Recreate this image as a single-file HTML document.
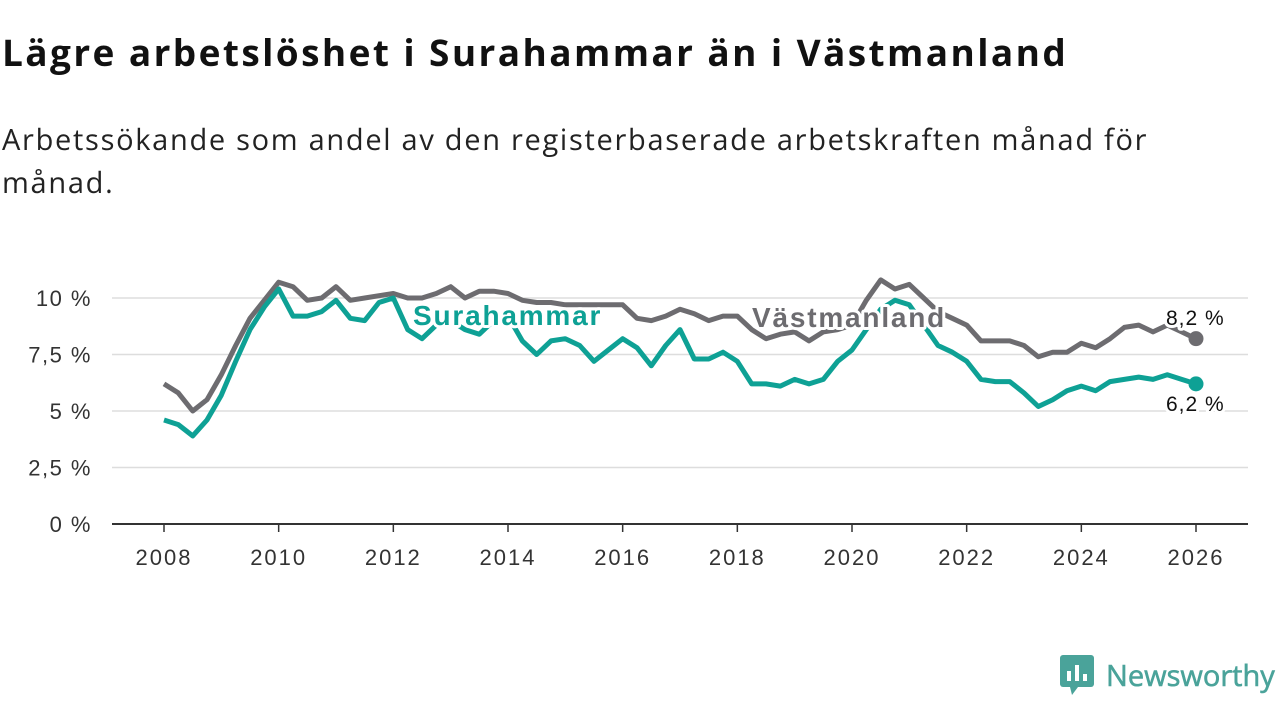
<!DOCTYPE html>
<html><head><meta charset="utf-8"><style>
body{margin:0;width:1280px;height:720px;background:#fff;font-family:"Open Sans","Liberation Sans","DejaVu Sans",sans-serif;overflow:hidden;position:relative;color:#111}
h1{position:absolute;left:2px;top:26px;margin:0;font-size:37px;font-weight:700;letter-spacing:2.4px;white-space:nowrap}
p.sub{position:absolute;left:2px;top:118px;margin:0;font-size:29px;line-height:43px;width:1200px;color:#222;letter-spacing:1.7px}
svg{position:absolute;left:0;top:0}
</style></head><body>
<h1>Lägre arbetslöshet i Surahammar än i Västmanland</h1>
<p class="sub">Arbetssökande som andel av den registerbaserade arbetskraften månad för månad.</p>
<svg id="chart" width="1280" height="720"></svg>
<div style="position:absolute;left:1060px;top:655px;display:flex;align-items:center">
<svg width="34" height="40" style="position:static"><rect x="0" y="0" width="34" height="32" rx="3" fill="#4aa39a"/><polygon points="10,32 18,32 12,40" fill="#4aa39a"/><rect x="7" y="16" width="4" height="10" fill="#fff"/><rect x="15" y="10" width="4" height="16" fill="#fff"/><rect x="23" y="19" width="4" height="7" fill="#fff"/></svg>
<span style="font-size:29px;color:#4aa39a;margin-left:12px;font-weight:400;-webkit-text-stroke:0.6px #4aa39a">Newsworthy</span></div>
<script>
const years=[];for(let i=0;i<=72;i++)years.push(2008+i/4);
const vastmanland=[6.2,5.8,5.0,5.5,6.6,7.9,9.1,9.9,10.7,10.5,9.9,10.0,10.5,9.9,10.0,10.1,10.2,10.0,10.0,10.2,10.5,10.0,10.3,10.3,10.2,9.9,9.8,9.8,9.7,9.7,9.7,9.7,9.7,9.1,9.0,9.2,9.5,9.3,9.0,9.2,9.2,8.6,8.2,8.4,8.5,8.1,8.5,8.6,8.8,9.9,10.8,10.4,10.6,10.0,9.4,9.1,8.8,8.1,8.1,8.1,7.9,7.4,7.6,7.6,8.0,7.8,8.2,8.7,8.8,8.5,8.8,8.5,8.2];
const surahammar=[4.6,4.4,3.9,4.6,5.7,7.2,8.6,9.6,10.4,9.2,9.2,9.4,9.9,9.1,9.0,9.8,10.0,8.6,8.2,8.8,9.0,8.6,8.4,9.0,9.2,8.1,7.5,8.1,8.2,7.9,7.2,7.7,8.2,7.8,7.0,7.9,8.6,7.3,7.3,7.6,7.2,6.2,6.2,6.1,6.4,6.2,6.4,7.2,7.7,8.6,9.5,9.9,9.7,8.8,7.9,7.6,7.2,6.4,6.3,6.3,5.8,5.2,5.5,5.9,6.1,5.9,6.3,6.4,6.5,6.4,6.6,6.4,6.2];
const yTicks=[0,2.5,5,7.5,10];
const yTickLabels=["0 %","2,5 %","5 %","7,5 %","10 %"];
const xTicks=[2008,2010,2012,2014,2016,2018,2020,2022,2024,2026];
const NS="http://www.w3.org/2000/svg",svg=document.getElementById('chart');
const X=v=>164+(v-2008)*(1196-164)/18, Y=v=>524-v*22.6;
function mk(t,a){const e=document.createElementNS(NS,t);for(const k in a)e.setAttribute(k,a[k]);svg.appendChild(e);return e;}
yTicks.forEach((t,i)=>{
 const l=mk('line',{x1:112,x2:1248,y1:Y(t),y2:Y(t),stroke:t===0?'#333':'#ddd','stroke-width':t===0?2:1.5});
 
 
 const tx=mk('text',{x:92,y:Y(t)+8,'text-anchor':'end','font-size':22,'letter-spacing':1.5,fill:'#333','font-family':'Liberation Sans,sans-serif'});
 tx.textContent=yTickLabels[i];
 
 
});
xTicks.forEach(t=>{
 const l=mk('line',{x1:X(t),x2:X(t),y1:524,y2:532,stroke:'#333','stroke-width':1.5});
 
 
 const tx=mk('text',{x:X(t),y:565,'text-anchor':'middle','font-size':22,'letter-spacing':2,fill:'#333','font-family':'Liberation Sans,sans-serif'});
 tx.textContent=t;
 
 
});
function line(vals,col,name){
 const d=vals.map((v,i)=>(i?'L':'M')+X(years[i]).toFixed(1)+','+Y(v).toFixed(1)).join('');
 const p=mk('path',{d:d,fill:'none',stroke:col,'stroke-width':5,'stroke-linejoin':'round'});
 
 
 const n=vals.length-1;
 const c=mk('circle',{cx:X(years[n]),cy:Y(vals[n]),r:7.5,fill:col});
 
 
}
line(vastmanland,'#6d6c70','vastmanland-line');
line(surahammar,'#0ea195','surahammar-line');
function lab(x,y,t,col,name,size,w,ls){
 const e=mk('text',{x:x,y:y,'font-size':size,'font-weight':w,'letter-spacing':ls,fill:col,stroke:'#fff','stroke-width':6,'paint-order':'stroke','stroke-linejoin':'round','font-family':'Liberation Sans,sans-serif'});
 e.textContent=t;
 
 
}
lab(413,325,'Surahammar','#0ea195','surahammar-label',28,700,1.8);
lab(752,327,'Västmanland','#6d6c70','vastmanland-label',28,700,1.8);
lab(1166,325,'8,2 %','#111','vastmanland-end-value',21,400,1);
lab(1166,411,'6,2 %','#111','surahammar-end-value',21,400,1);
</script>
</body></html>
